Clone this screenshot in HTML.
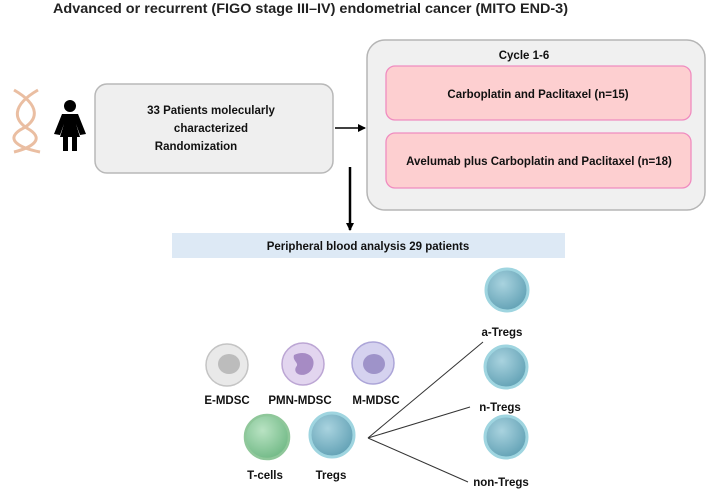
<!DOCTYPE html>
<html><head><meta charset="utf-8"><style>
body{margin:0;background:#fff;}
svg{display:block;font-family:"Liberation Sans",sans-serif;font-weight:bold;}
</style></head><body>
<svg width="708" height="491" viewBox="0 0 708 491" xmlns="http://www.w3.org/2000/svg">
<defs>
<radialGradient id="gb" cx="40%" cy="35%" r="70%"><stop offset="0" stop-color="#a9d3df"/><stop offset="1" stop-color="#5f9fb3"/></radialGradient>
<radialGradient id="gg" cx="40%" cy="35%" r="70%"><stop offset="0" stop-color="#b9e3c3"/><stop offset="1" stop-color="#6fb884"/></radialGradient>
<marker id="ah" markerWidth="8" markerHeight="8" refX="7" refY="4" orient="auto" markerUnits="userSpaceOnUse"><path d="M0,0 L8,4 L0,8 z" fill="#000"/></marker>
</defs>
<text x="53" y="13" font-size="14" textLength="515" lengthAdjust="spacingAndGlyphs" fill="#222">Advanced or recurrent (FIGO stage III–IV) endometrial cancer (MITO END-3)</text>

<!-- DNA -->
<g stroke="#e8b898" stroke-width="3" fill="none" opacity="0.9">
<path d="M14,90 C40,105 40,120 20,130 C5,140 20,148 40,152"/>
<path d="M38,90 C12,105 12,120 30,130 C45,140 30,148 14,152"/>
</g>
<!-- woman -->
<g fill="#000">
<circle cx="70" cy="106" r="6"/>
<path d="M62,114 L78,114 L86,134 L80,135 L76,124 L80,137 L60,137 L64,124 L60,135 L54,134 z"/>
<rect x="63" y="137" width="5" height="14"/><rect x="72" y="137" width="5" height="14"/>
</g>

<rect x="95" y="84" width="238" height="89" rx="12" fill="#efefef" stroke="#b8b8b8" stroke-width="1.5"/>
<g font-size="11.5" text-anchor="middle" fill="#111">
<text x="211" y="114">33 Patients molecularly</text>
<text x="211" y="132">characterized</text>
<text x="196" y="150">Randomization</text>
</g>
<line x1="335" y1="128" x2="365" y2="128" stroke="#000" stroke-width="1.5" marker-end="url(#ah)"/>
<line x1="350" y1="167" x2="350" y2="230" stroke="#000" stroke-width="2.5" marker-end="url(#ah)"/>

<rect x="367" y="40" width="338" height="170" rx="18" fill="#f0f0f0" stroke="#b5b5b5" stroke-width="1.5"/>
<text x="524" y="59" font-size="11.5" text-anchor="middle" fill="#111">Cycle 1-6</text>
<rect x="386" y="66" width="305" height="54" rx="9" fill="#fdcfd0" stroke="#f08cc0" stroke-width="1.3"/>
<text x="538" y="98" font-size="11.5" text-anchor="middle" fill="#111">Carboplatin and Paclitaxel (n=15)</text>
<rect x="386" y="133" width="305" height="55" rx="9" fill="#fdcfd0" stroke="#f08cc0" stroke-width="1.3"/>
<text x="539" y="165" font-size="11.5" text-anchor="middle" fill="#111">Avelumab plus Carboplatin and Paclitaxel (n=18)</text>

<rect x="172" y="233" width="393" height="25" fill="#dde9f5"/>
<text x="368" y="250" font-size="11.5" text-anchor="middle" fill="#111">Peripheral blood analysis 29 patients</text>

<!-- cells -->
<g stroke-width="1.5">
<circle cx="227" cy="365" r="21" fill="#e9e9e9" stroke="#c4c4c4"/><ellipse cx="229" cy="364" rx="11" ry="10" fill="#bcbcbc"/>
<circle cx="303" cy="364" r="21" fill="#e2d5ef" stroke="#bca6d4"/><path d="M294,355 C306,349 318,357 312,369 C306,379 292,375 296,367 C300,363 292,361 294,355z" fill="#a68bc4"/>
<circle cx="373" cy="363" r="21" fill="#d5d2ef" stroke="#aca5d8"/><ellipse cx="374" cy="364" rx="11" ry="10" fill="#9e93c9"/>
<circle cx="267" cy="437" r="22" fill="url(#gg)" stroke="#8fc79a" stroke-width="2.5"/>
<circle cx="332" cy="435" r="22" fill="url(#gb)" stroke="#9fd5e0" stroke-width="3"/>
<circle cx="507" cy="290" r="21" fill="url(#gb)" stroke="#9fd5e0" stroke-width="3"/>
<circle cx="506" cy="367" r="21" fill="url(#gb)" stroke="#9fd5e0" stroke-width="3"/>
<circle cx="506" cy="437" r="21" fill="url(#gb)" stroke="#9fd5e0" stroke-width="3"/>
</g>
<g stroke="#333" stroke-width="1">
<line x1="368" y1="438" x2="483" y2="342"/>
<line x1="368" y1="438" x2="470" y2="407"/>
<line x1="368" y1="438" x2="468" y2="482"/>
</g>
<g font-size="11.5" text-anchor="middle" fill="#111">
<text x="227" y="404">E-MDSC</text>
<text x="300" y="404">PMN-MDSC</text>
<text x="376" y="404">M-MDSC</text>
<text x="265" y="479">T-cells</text>
<text x="331" y="479">Tregs</text>
<text x="502" y="336">a-Tregs</text>
<text x="500" y="411">n-Tregs</text>
<text x="501" y="486">non-Tregs</text>
</g>
</svg>
</body></html>
